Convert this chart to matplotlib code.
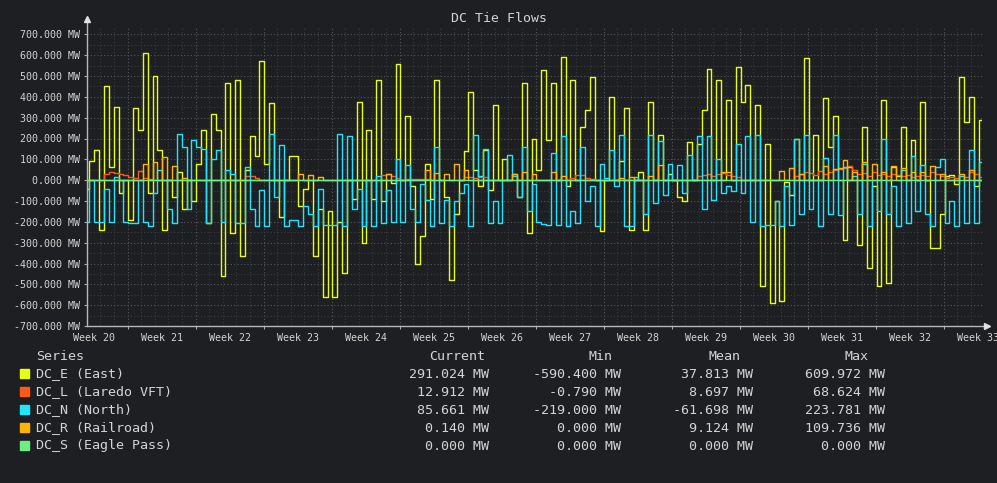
import numpy as np
import matplotlib
matplotlib.use('Agg')
import matplotlib.pyplot as plt
from matplotlib.ticker import FixedLocator, MultipleLocator, NullFormatter
import matplotlib.transforms as mtransforms

# values every 12 hours (MW)
dc_e = [-40, 90, 145, -240, 450, 65, 350, -60, 0, -190, 345, 240, 609.97, -60,
        500, 145, -240, 0, -80, 40, -140, 0, -100, 80, 240, -205, 320, 240,
        -460, 465, -255, 480,
        -365, 50, 210, 115, 570, 80, 370, 0, -175, 0, 115, 115, -125, -40, 0,
        -365, -140, -560, -150, -560, -200, -445, 0, -90, 375, -300, 240, -90, 480, -100, 0,
        -15, 560, 0, 310, -30, -400, -270, 80, -90, 480, 0, -80, -480, -160, 0,
        140, 425, 50, -30, 145, -45, 360, 0, 100, 0, 30, -80, 465, -255, 200, 50,
        530, 195, 465, 0, 590, -30, 480, 0, 255, 335, 495, 0, -245, 0, 400,
        0, 90, 345, -240, 0, 40, -240, 375, 0, 215, 0, 30, 0, -80, -100, 185,
        0, 175, 335, 535, 0, 480, 0, 385, 0, 545, 375, 455, 0, 360, -510,
        175, -590.4, -100, -580, -10, -70, 200, 0, 585, 0, 215, 0, 395, 160, 310, 0,
        -285, 65, 0, -310, 255, -420, -30, -510, 385, -495, 65, 20, 255, 0,
        195, 0, 375, 0, -325, -325, -160, 20, 25, -20, 495, 280, 400, -30, 291.024]

dc_l = [0, 0, 0, 0, 30, 40, 35, 30, 25, 15, 10, 45, 10, 5,
        0, 0, 0, 0, 0, 0, 0, 0, 0, 0, 0, 0, 0, 0,
        0, 0, 0, 0, 0, 20, 20, 10, 0, 0, 0, 0, 0, 0,
        0, 0, 0, 0, 0, 0, 0, 0, 0, 0, 0, 0, 0, 0,
        0, 0, 0, 0, 0, 25, 30, 20, 10, 0, 5, 5, 5, 5,
        5, 0, 0, 0, 0, 0, 0, 0, 15, 15, 10, 15, 15, 0,
        0, 0, 0, 0, 0, 0, 0, 0, 0, 0, 0, 0, 0, 0,
        0, 0, 10, 25, 25, 10, 5, 0, 0, 0, 0, 0, 0, 0,
        0, 0, 0, 0, 0, 0, 0, 0, 0, 0, 0, 0, 0, 0,
        20, 25, 30, 20, 30, 35, 25, 20, 15, 0, 0, 0, 0, 0,
        0, 0, 0, 0, 0, 0, 20, 30, 40, 35, 25, 45, 30, 40,
        50, 55, 60, 68.624, 50, 30, 35, 20, 40, 25, 30, 20, 30, 25,
        20, 25, 15, 20, 25, 20, 40, 30, 20, 10, 15, 10, 20, 15,
        40, 30, 12.912]

dc_n = [-200, 0, -200, -200, -40, -200, 15, 0, -200, -205, -205, 0, -200, -219,
        -60, 50, 0, -140, -205, 223.78, 160, -140, 195, 160, 150, -205, 100, 145,
        -200, 50, 30, -205,
        -205, 65, -140, -219, -45, -219, 220, -80, 170, -219, -190, -190, -219, -125, -160,
        -219, -40, -215, -215, -215, 220, -219, 210, -140, -40, -219, 0, -219, 20, -205, -45,
        -200, 100, -200, 75, -140, -200, -20, -95, -219, 160, -205, -95, -219, -100, -60,
        -20, -219, 215, 20, 150, -205, -100, -205, 0, 120, 20, -80, 160, -150, -20, -200,
        -210, -215, 130, -215, 210, -219, -150, -205, 160, -100, -30, -219, 80, 10, 145,
        -30, 215, -219, -219, 15, 0, -160, 215, -110, 190, -70, 80, 0, 75, -60, 120,
        0, 210, -140, 210, -95, 100, -60, -30, -50, 175, -60, 210, -200, 215, -219,
        -215, -215, -100, -219, -30, -215, 200, -160, 215, -140, 0, -219, 105, -160, 215, -165,
        65, 0, 20, -160, 80, -219, 0, -150, 200, -160, -30, -219, 50, -205,
        115, -150, 75, -160, -219, 65, 100, -205, -100, -219, 20, -205, 145, -205, 85.661]

dc_r = [0, 0, 0, 0, 0, 0, 0, 0, 0, 0, 0, 0, 80, 0,
        85, 0, 109.736, 0, 70, 0, 10, 0, 0, 0, 0, 0, 0, 0,
        0, 0, 0, 0, 0, 0, 0, 0, 0, 0, 0, 0, 0, 0,
        0, 0, 30, 0, 25, 0, 15, 0, 0, 0, 0, 0, 0, 0,
        0, 0, 0, 0, 0, 0, 30, 0, 0, 0, 0, 0, 0, 0,
        50, 0, 35, 0, 30, 0, 80, 0, 50, 0, 0, 0, 0, 0,
        0, 0, 0, 0, 30, 0, 40, 0, 30, 0, 0, 0, 40, 0,
        20, 0, 0, 0, 0, 0, 0, 0, 0, 0, 0, 0, 10, 0,
        15, 0, 0, 0, 20, 0, 75, 0, 0, 0, 0, 0, 0, 0,
        0, 0, 0, 0, 0, 40, 40, 0, 0, 0, 0, 0, 0, 0,
        0, 0, 0, 45, 0, 60, 0, 30, 0, 0, 0, 0, 70, 0,
        55, 60, 95, 0, 40, 0, 85, 0, 80, 0, 40, 0, 70, 0,
        60, 0, 40, 0, 40, 0, 70, 0, 30, 0, 0, 0, 30, 0,
        50, 0, 0.14]

dc_s = np.zeros(len(dc_e))

days = np.arange(len(dc_e)) * 0.5

series_names = ['DC_E (East)', 'DC_L (Laredo VFT)', 'DC_N (North)',
                'DC_R (Railroad)', 'DC_S (Eagle Pass)']
series_colors = ['#e8ff10', '#ff5a14', '#1ee6ff', '#ffb400', '#6cef82']
current_vals = ['291.024 MW', '12.912 MW', '85.661 MW', '0.140 MW', '0.000 MW']
min_vals = ['-590.400 MW', '-0.790 MW', '-219.000 MW', '0.000 MW', '0.000 MW']
mean_vals = ['37.813 MW', '8.697 MW', '-61.698 MW', '9.124 MW', '0.000 MW']
max_vals = ['609.972 MW', '68.624 MW', '223.781 MW', '109.736 MW', '0.000 MW']

week_labels = ['Week %d' % w for w in range(20, 34)]

bg = '#1e1f22'
fg = '#d4d4d4'
mono = 'DejaVu Sans Mono'

W, H = 997, 483
fig = plt.figure(figsize=(W / 100, H / 100), dpi=100, facecolor=bg)
ax = fig.add_axes([87 / W, (H - 326) / H, (982 - 87) / W, 300 / H], facecolor=bg)

for vals, col in zip([dc_e, dc_l, dc_n, dc_r, dc_s], series_colors):
    ax.plot(days, vals, color=col, lw=1.0, drawstyle='steps-mid')

ax.set_xlim(0, 92.1)
ax.set_ylim(-700, 740)

week_start = 4.17
majors = np.arange(week_start, 92.1, 7)
minors = [m for m in np.arange(week_start - 2.8, 92.1, 1.4) if min(abs(m - majors)) > 0.1]
ax.xaxis.set_major_locator(FixedLocator(majors))
ax.xaxis.set_minor_locator(FixedLocator(minors))
ax.xaxis.set_major_formatter(NullFormatter())
ax.yaxis.set_major_locator(MultipleLocator(100))
ax.yaxis.set_minor_locator(MultipleLocator(50))
ax.yaxis.set_major_formatter(lambda v, p: '%.3f MW' % v if v <= 700 else '')

ax.grid(which='major', color='#545658', lw=0.8, ls=(0, (1, 2)))
ax.grid(which='minor', color='#393a3d', lw=0.8, ls=(0, (1, 2)))
ax.set_axisbelow(True)

ax.tick_params(axis='both', which='major', colors='#aaaaaa', length=2, width=0.8,
               labelcolor=fg, labelsize=7.2, pad=3)
ax.tick_params(axis='both', which='minor', length=0)
for lab in ax.get_yticklabels():
    lab.set_fontfamily(mono)

for s in ax.spines.values():
    s.set_visible(False)
ax.plot([0, 0], [0, 1.02], transform=ax.transAxes, color='#b8b8b8', lw=1, clip_on=False)
ax.plot([0, 1.004], [0, 0], transform=ax.transAxes, color='#b8b8b8', lw=1, clip_on=False)
ax.plot([0], [1.025], transform=ax.transAxes, marker='^', ms=4, color='#e0e0e0',
        clip_on=False)
ax.plot([1.006], [0], transform=ax.transAxes, marker='>', ms=4, color='#e0e0e0',
        clip_on=False)

trans = mtransforms.blended_transform_factory(ax.transData, ax.transAxes)
for k, lab in enumerate(week_labels):
    ax.text(week_start - 3.45 + 7 * k, -0.04, lab, transform=trans, ha='center',
            va='center', fontsize=7.2, family=mono, color=fg, clip_on=False)

fig.text(0.5, 1 - 19 / H, 'DC Tie Flows', ha='center', va='center',
         fontsize=9.5, family=mono, color=fg)

def px(x, y):
    return x / W, 1 - y / H

tk = dict(family=mono, fontsize=9.6, color=fg, va='center')
fig.text(*px(36, 356), 'Series', ha='left', **tk)
fig.text(*px(485, 356), 'Current', ha='right', **tk)
fig.text(*px(600, 356), 'Min', ha='center', **tk)
fig.text(*px(724, 356), 'Mean', ha='center', **tk)
fig.text(*px(856, 356), 'Max', ha='center', **tk)

for i in range(len(series_names)):
    y = 374 + 18 * i
    fig.patches.append(plt.Rectangle(px(20, y + 4), 9 / W, 9 / H, color=series_colors[i],
                                     transform=fig.transFigure, figure=fig))
    fig.text(*px(36, y), series_names[i], ha='left', **tk)
    fig.text(*px(489, y), current_vals[i], ha='right', **tk)
    fig.text(*px(621, y), min_vals[i], ha='right', **tk)
    fig.text(*px(753, y), mean_vals[i], ha='right', **tk)
    fig.text(*px(885, y), max_vals[i], ha='right', **tk)

fig.savefig('out.png', dpi=100, facecolor=bg)
